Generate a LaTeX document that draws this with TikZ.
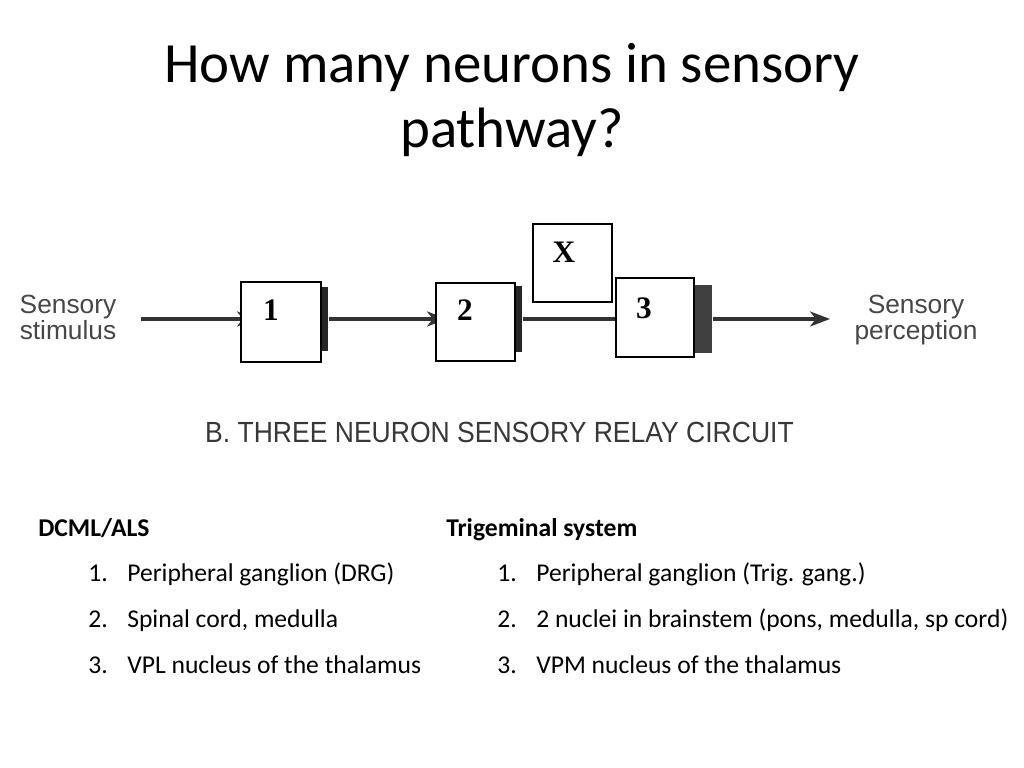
\documentclass[tikz,border=0pt]{standalone}
\usepackage{fontspec}
\setmainfont{Carlito}
\newfontfamily\diagfont{Liberation Sans}
\newfontfamily\boxfont{Liberation Serif}
\usetikzlibrary{calc,arrows.meta}

\begin{document}
\begin{tikzpicture}[x=0.703125pt, y=-0.703125pt,
	cell/.style={draw, line width=1.4pt, fill=white, minimum width=55.5pt, minimum height=55.5pt, inner sep=0pt},
	num/.style={font=\boxfont\bfseries\fontsize{22}{22}\selectfont, inner sep=0pt},
	syn/.style={fill=black!85, draw=none, anchor=west, inner sep=0pt, minimum width=4.2pt, minimum height=46pt},
	wire/.style={line width=2.2pt, draw=black!80},
	tip/.style={-{Stealth[length=14pt, width=10.5pt, inset=4pt]}, fill=black!80},
	lbl/.style={font=\diagfont\fontsize{18.5}{18.3}\selectfont, text=black!72, align=center, inner sep=0pt},
	title/.style={font=\fontsize{40}{48}\selectfont, anchor=base, inner sep=0pt},
	head/.style={font=\bfseries\fontsize{18}{21}\selectfont, anchor=base west, inner sep=0pt},
	item/.style={font=\fontsize{18}{21}\selectfont, anchor=base west, inner sep=0pt}]
			%%%%% START %%%%%
			
			\useasboundingbox[fill=white] (0,0) rectangle (1024,768);
			
			\node[title] (t1) at (512,83) {How many neurons in sensory};
			\node[title] (t2) at (512,148) {pathway?};
			
			% relay circuit
			\node[lbl] (stim) at (68,317) {Sensory\\stimulus};
			\node[lbl] (perc) at (916,320) {Sensory\\perception};
			
			\coordinate (in) at (141,319);
			\coordinate (out) at (830,319);
			
			\node[cell, minimum width=56.25pt, minimum height=56.25pt] (n1) at (281,322) {};
			\node[cell] (n2) at (475.5,322) {};
			\node[cell] (nx) at (572.5,263) {};
			\node[cell, minimum width=54.8pt] (n3) at (655,317.5) {};
			
			\draw[wire,tip] (in) -- ($(in -| n1.west)+(17,0)$);
			
			\node[syn, minimum height=45.7pt] (s1) at ($(n1.east)+(0,-3)$) {};
			\node[syn, minimum height=47.1pt] (s2) at ($(n2.east)+(0,-3)$) {};
			\node[syn, minimum width=12pt, minimum height=47.8pt, fill=black!75] (s3) at ($(n3.east)+(0,1.5)$) {};
			
			\draw[wire,tip] (s1.east) -- ($(s1.east -| n2.west)+(12,0)$);
			\draw[wire] (s2.east) -- (s2.east -| n3.west);
			\draw[wire,tip] (s3.east) -- (s3.east -| out);
			
			% boxes again on top of the arrow tips
			\node[cell, minimum width=56.25pt, minimum height=56.25pt] at (n1) {};
			\node[cell] at (n2) {};
			
			\node[num] (l1) at ($(n1.center)+(-10,-11.5)$) {1};
			\node[num] (l2) at ($(n2.center)+(-10.5,-12)$) {2};
			\node[num] (lx) at ($(nx.center)+(-8.5,-11)$) {X};
			\node[num] (l3) at ($(n3.center)+(-11,-9.5)$) {3};
			
			\node[lbl, anchor=base, text=black!78] (relay) at (499.5,442)
				{\fontsize{20.5}{24}\selectfont\scalebox{0.91}[1]{B.\ THREE NEURON SENSORY RELAY CIRCUIT}};
			
			% two lists
			\node[head] (dcml) at (38,536) {DCML/ALS};
			\node[item] (a1) at (88,581) {1.};
			\node[item] (a1t) at (127,581) {Peripheral ganglion (DRG)};
			\node[item] (a2) at (88,627) {2.};
			\node[item] (a2t) at (127,627) {Spinal cord, medulla};
			\node[item] (a3) at (88,673) {3.};
			\node[item] (a3t) at (127,673) {VPL nucleus of the thalamus};
			
			\node[head] (trig) at (446,536) {Trigeminal system};
			\node[item] (b1) at (497,581) {1.};
			\node[item] (b1t) at (536,581) {Peripheral ganglion (Trig. gang.)};
			\node[item] (b2) at (497,627) {2.};
			\node[item] (b2t) at (536,627) {2 nuclei in brainstem (pons, medulla, sp cord)};
			\node[item] (b3) at (497,673) {3.};
			\node[item] (b3t) at (536,673) {VPM nucleus of the thalamus};
			
			%%%%% END %%%%%
		\end{tikzpicture}
\end{document}
